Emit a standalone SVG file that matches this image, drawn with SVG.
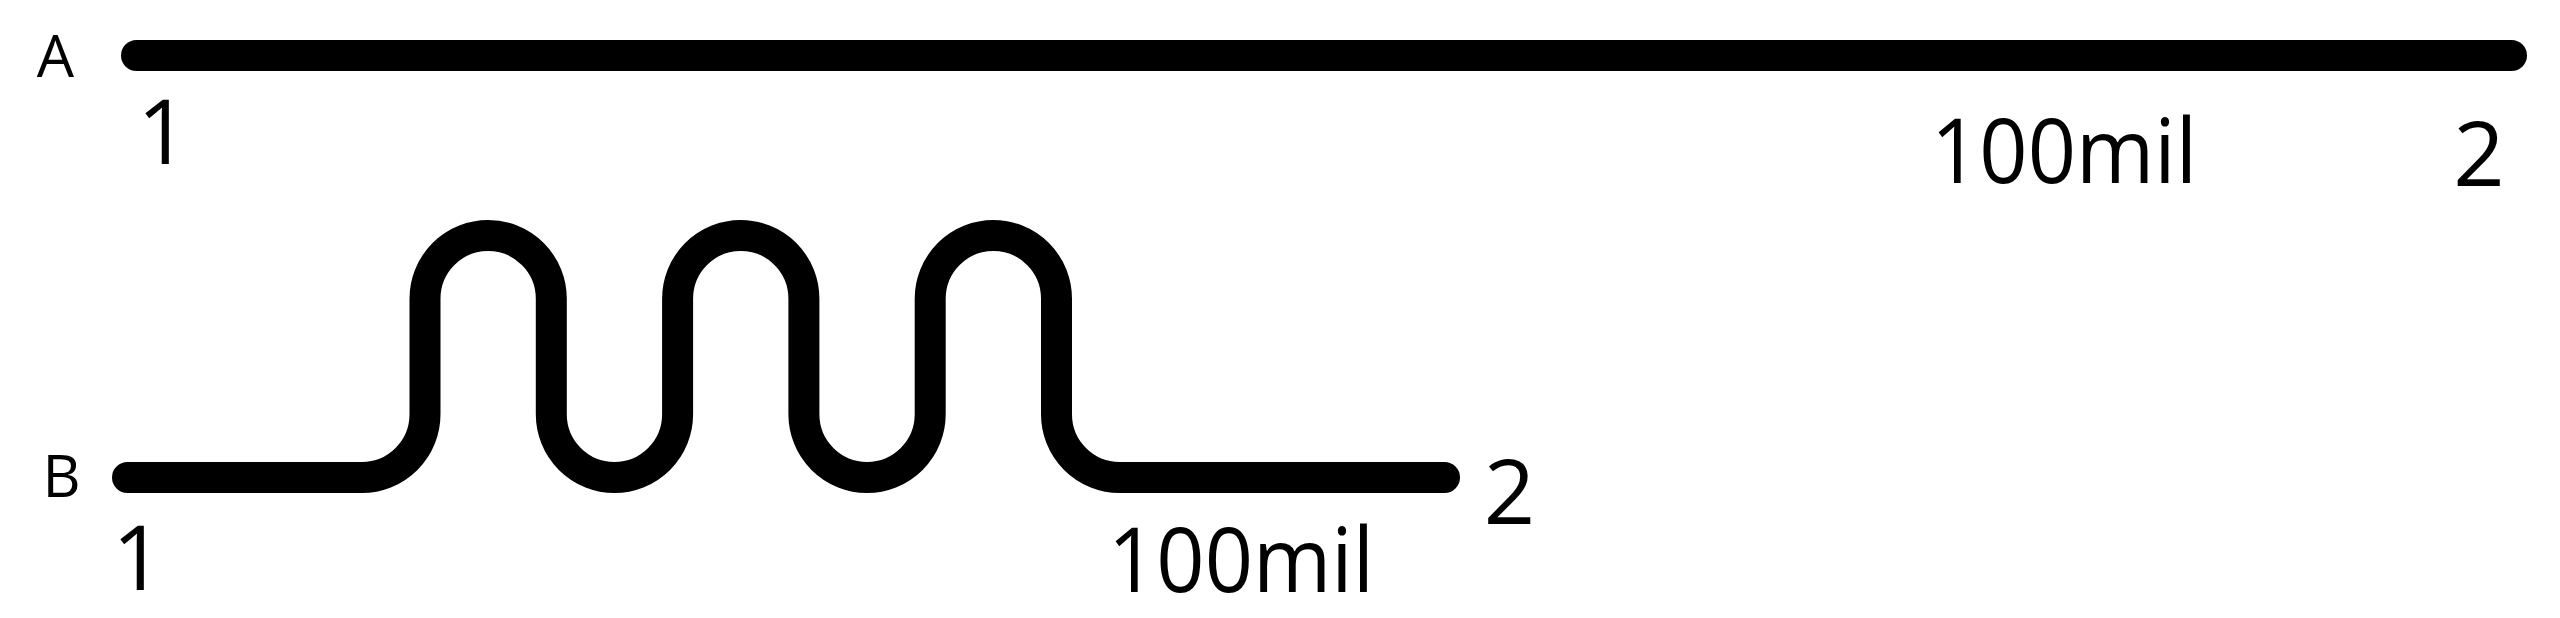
<svg xmlns="http://www.w3.org/2000/svg" width="2560" height="618" viewBox="0 0 2560 618">
  <style>
    .trace { fill: none; stroke: #000; stroke-width: 31; stroke-linecap: round; stroke-linejoin: round; }
    .lbl { font-family: "Open Sans", "Noto Sans", "Liberation Sans", sans-serif; fill: #000; font-weight: 500; }
    .big { font-size: 90px; }
    .small { font-size: 59px; }
    .mid { text-anchor: middle; }
  </style>
  <rect width="2560" height="618" fill="#fff"/>
  <g id="trace-A">
    <path class="trace" d="M 136.5 55.5 H 2511.5"/>
    <text class="lbl small mid" x="55.5" y="77">A</text>
    <text class="lbl big mid" x="163" y="164">1</text>
    <text class="lbl big" x="1931" y="183" textLength="266" lengthAdjust="spacingAndGlyphs">100mil</text>
    <text class="lbl big mid" x="2479" y="186">2</text>
  </g>
  <g id="trace-B">
    <path class="trace" d="M 127.5 477.5 H 361.85 A 63.15 63.15 0 0 0 425 414.35 V 298.65 A 63.15 63.15 0 0 1 551.3 298.65 V 414.35 A 63.15 63.15 0 0 0 677.6 414.35 V 298.65 A 63.15 63.15 0 0 1 803.9 298.65 V 414.35 A 63.15 63.15 0 0 0 930.2 414.35 V 298.65 A 63.15 63.15 0 0 1 1056.5 298.65 V 414.35 A 63.15 63.15 0 0 0 1119.65 477.5 H 1444.5"/>
    <text class="lbl small mid" x="61.5" y="497">B</text>
    <text class="lbl big mid" x="138" y="590">1</text>
    <text class="lbl big" x="1108" y="592" textLength="266" lengthAdjust="spacingAndGlyphs">100mil</text>
    <text class="lbl big mid" x="1509.5" y="524">2</text>
  </g>
</svg>
